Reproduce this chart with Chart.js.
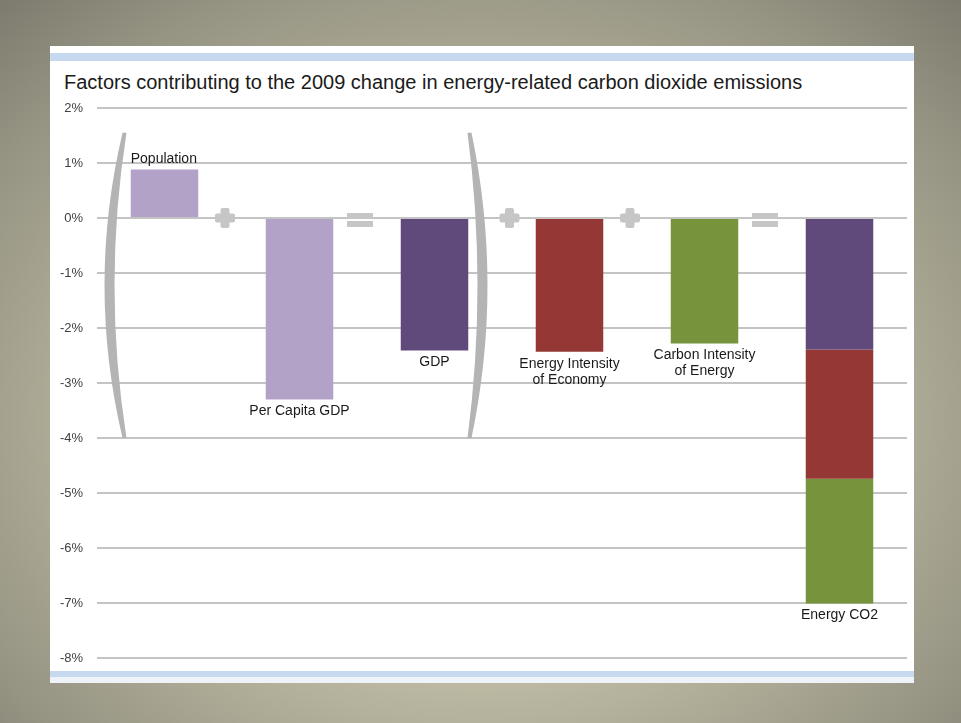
<!DOCTYPE html>
<html>
<head>
<meta charset="utf-8">
<script src="https://cdn.jsdelivr.net/npm/chart.js@4/dist/chart.umd.min.js"></script>
<style>
    html, body { margin: 0; padding: 0; }
    body {
        width: 961px; height: 723px; overflow: hidden; position: relative;
        background: radial-gradient(ellipse 75% 80% at 50% 58%, #d3cfb9 0%, #bdb9a3 45%, #959382 80%, #7b796c 100%);
    }
    #panel { position: absolute; left: 50px; top: 46px; width: 864px; height: 637px; background: #fff; }
    .band { position: absolute; left: 0; right: 0; }
    #title {
        position: absolute; left: 14px; top: 25px; line-height: 20px;
        font: 20px "Liberation Sans", Arial, sans-serif; color: #1a1a1a; white-space: nowrap;
    }
    #chart { position: absolute; left: 0; top: 0; }
</style>
</head>
<body>
<div id="panel">
    <div class="band" style="top:7px;height:8px;background:#c6d9ef;"></div>
    <div class="band" style="top:625px;height:6px;background:#c6d9ef;"></div>
    <div class="band" style="top:631px;height:6px;background:#eef3fa;"></div>
    <div id="title">Factors contributing to the 2009 change in energy-related carbon dioxide emissions</div>
    <canvas id="chart" width="864" height="637"></canvas>
</div>
<script>
// categories and the text printed next to each bar
const categories = ['Population', 'Per Capita GDP', 'GDP', 'Energy Intensity of Economy', 'Carbon Intensity of Energy', 'Energy CO2'];
const barLabels = [['Population'], ['Per Capita GDP'], ['GDP'], ['Energy Intensity', 'of Economy'], ['Carbon Intensity', 'of Energy'], ['Energy CO2']];

// % change, one array per colour (last category is the stacked total)
const populationGdp = [0.88, -3.30, null, null, null, null];
const gdp = [null, null, -2.41, null, null, -2.39];
const energyIntensity = [null, null, null, -2.43, null, -2.35];
const carbonIntensity = [null, null, null, null, -2.28, -2.27];

// symbols between neighbouring bars, and the bracketed group
const operators = ['+', '=', '+', '+', '='];
const bracketFrom = 0, bracketTo = 2;

const yMin = -8, yMax = 2, yStep = 1;

const font = '"Liberation Sans", Arial, sans-serif';

const decorations = {
    id: 'decorations',
    afterDatasetsDraw(chart) {
        const ctx = chart.ctx;
        const xs = chart.scales.x, ys = chart.scales.y;
        const zeroY = ys.getPixelForValue(0);
        ctx.save();

        // big brackets round the GDP group
        const top = ys.getPixelForValue(1.55), bot = ys.getPixelForValue(-4.0);
        const mid = (top + bot) / 2;
        const l = xs.getPixelForValue(bracketFrom) - 42;
        const r = xs.getPixelForValue(bracketTo) + 33;
        ctx.fillStyle = '#b4b4b4';
        ctx.beginPath();
        ctx.moveTo(l, top);
        ctx.quadraticCurveTo(l - 36, mid, l, bot);
        ctx.lineTo(l + 4, bot);
        ctx.quadraticCurveTo(l - 20, mid, l + 4, top);
        ctx.closePath();
        ctx.fill();
        ctx.beginPath();
        ctx.moveTo(r + 4, top);
        ctx.quadraticCurveTo(r + 36, mid, r + 4, bot);
        ctx.lineTo(r, bot);
        ctx.quadraticCurveTo(r + 20, mid, r, top);
        ctx.closePath();
        ctx.fill();

        // + and = signs on the zero line
        ctx.fillStyle = '#c6c6c6';
        operators.forEach((op, i) => {
            let cx = (xs.getPixelForValue(i) + xs.getPixelForValue(i + 1)) / 2 - 7;
            if (i === bracketTo) cx = r + 42;
            if (op === '+') {
                ctx.beginPath();
                ctx.roundRect(cx - 10, zeroY - 4.5, 20, 9, 2);
                ctx.roundRect(cx - 4.5, zeroY - 10, 9, 20, 2);
                ctx.fill();
            } else {
                ctx.fillRect(cx - 13, zeroY - 5, 26, 6);
                ctx.fillRect(cx - 13, zeroY + 3, 26, 6);
            }
        });

        // category labels at the end of each bar
        ctx.fillStyle = '#1a1a1a';
        ctx.font = '14px ' + font;
        ctx.textBaseline = 'middle';
        categories.forEach((c, i) => {
            let neg = 0, pos = 0;
            chart.data.datasets.forEach(ds => {
                const v = ds.data[i];
                if (v == null) return;
                if (v < 0) neg += v; else pos += v;
            });
            const cx = xs.getPixelForValue(i);
            const lines = barLabels[i];
            if (pos > 0 && neg === 0) {
                const meta = chart.getDatasetMeta(0).data[i];
                ctx.textAlign = 'left';
                ctx.fillText(lines[0], meta.x - meta.width / 2, ys.getPixelForValue(pos) - 10);
            } else {
                ctx.textAlign = 'center';
                const y0 = ys.getPixelForValue(neg) + 12;
                lines.forEach((t, k) => ctx.fillText(t, cx, y0 + k * 16));
            }
        });
        ctx.restore();
    }
};

new Chart(document.getElementById('chart'), {
    type: 'bar',
    data: {
        labels: categories,
        datasets: [
            { data: populationGdp, backgroundColor: '#b3a2c7' },
            { data: gdp, backgroundColor: '#604a7b' },
            { data: energyIntensity, backgroundColor: '#953735' },
            { data: carbonIntensity, backgroundColor: '#77933c' }
        ]
    },
    options: {
        responsive: false,
        animation: false,
        barPercentage: 0.5,
        categoryPercentage: 1,
        layout: { padding: { left: 0, right: 7, top: 62, bottom: 25 } },
        plugins: { legend: { display: false }, tooltip: { enabled: false } },
        scales: {
            x: { stacked: true, display: false },
            y: {
                stacked: true,
                min: yMin,
                max: yMax,
                afterFit(scale) { scale.width = 47; },
                ticks: {
                    stepSize: yStep,
                    padding: 14,
                    color: '#404040',
                    font: { family: font, size: 13 },
                    callback: v => v + '%'
                },
                grid: { color: '#c4c4c4', lineWidth: 2, drawTicks: false },
                border: { display: false }
            }
        }
    },
    plugins: [decorations]
});
</script>
</body>
</html>
